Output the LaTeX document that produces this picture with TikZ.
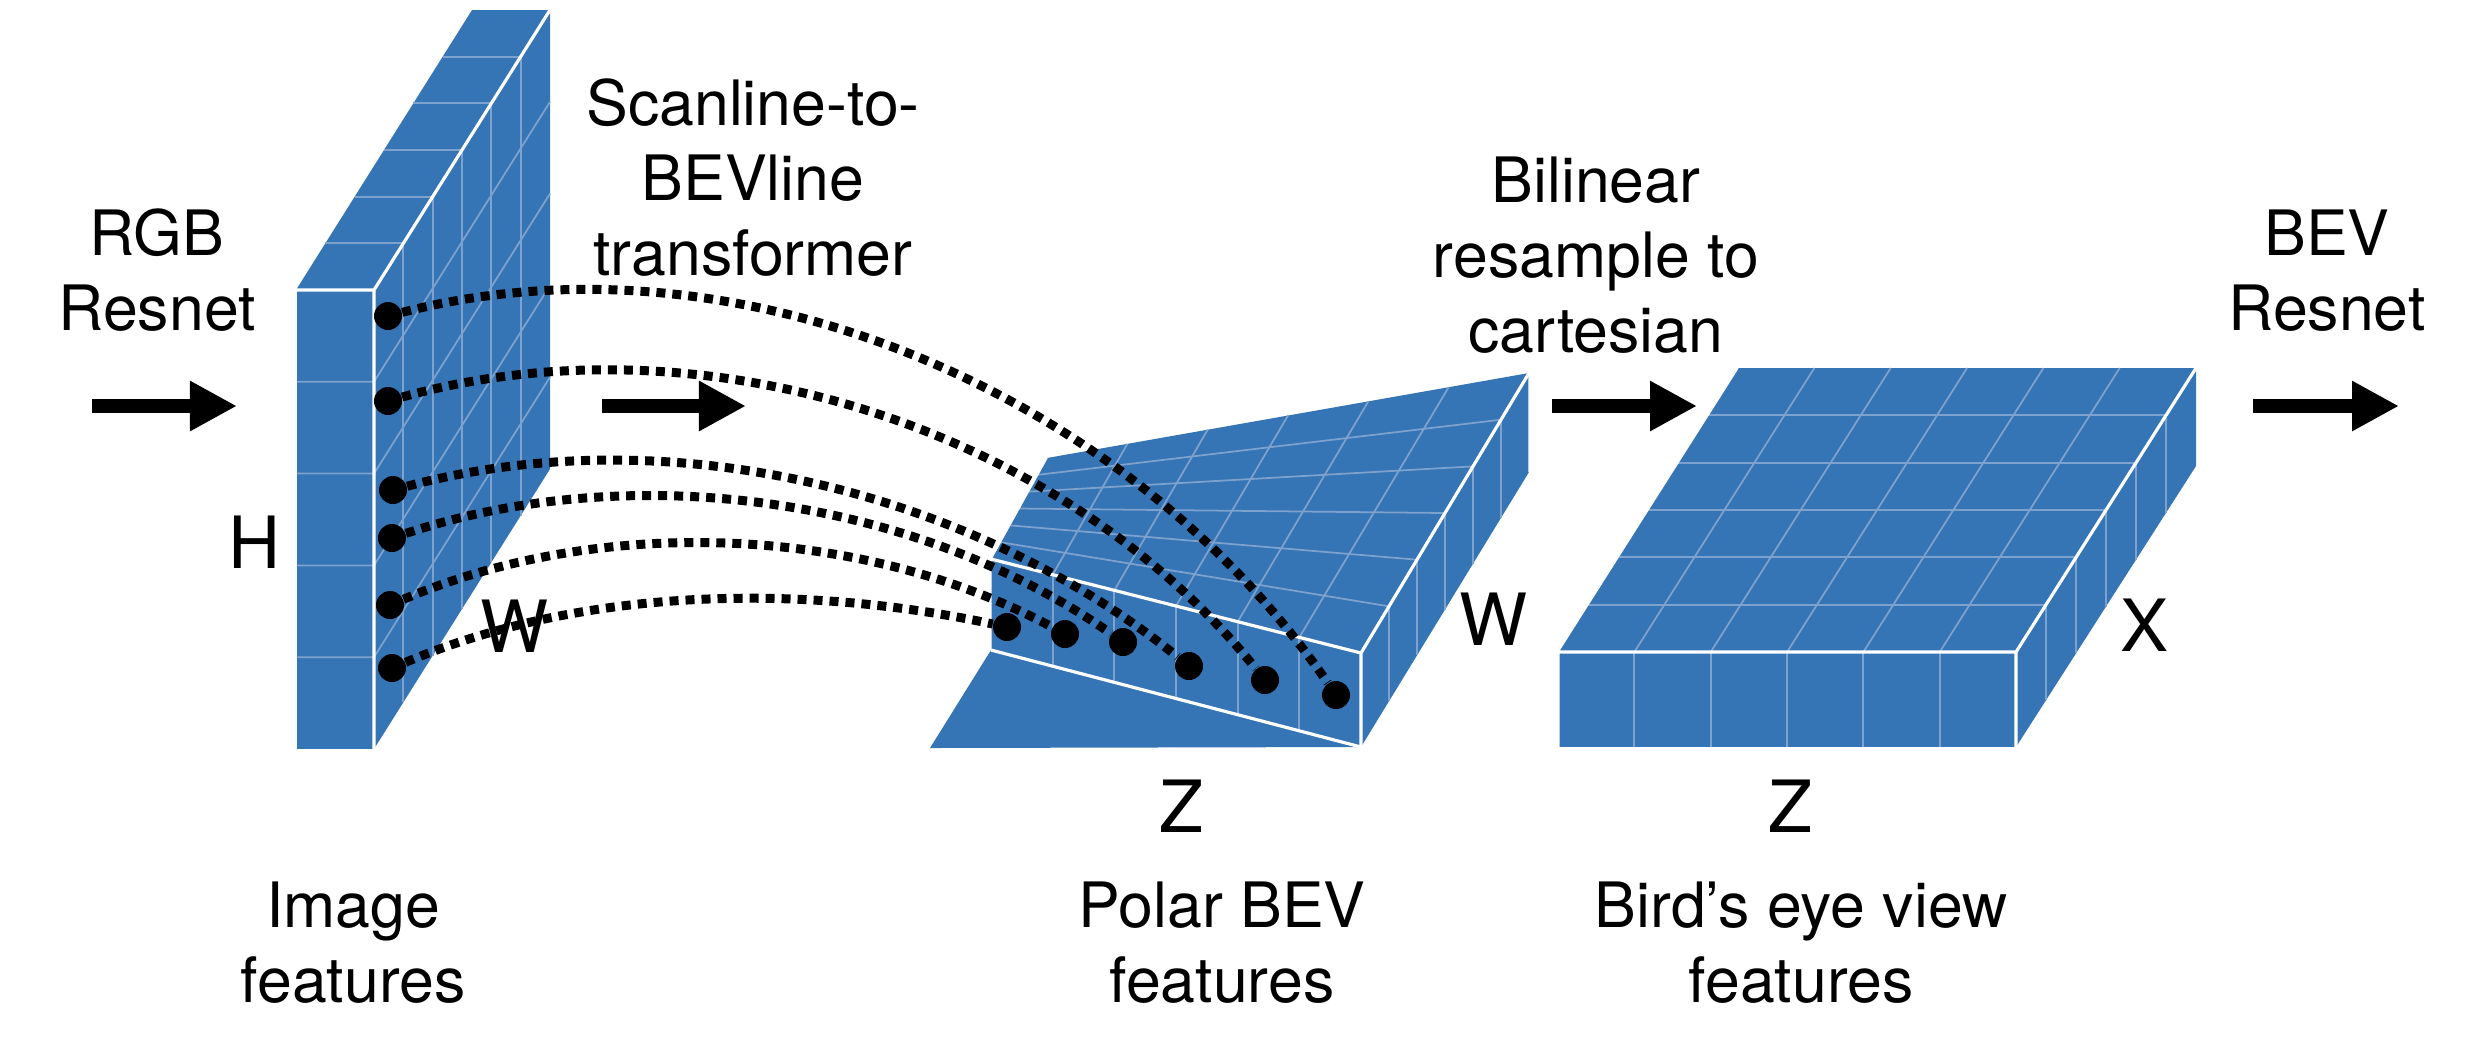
\documentclass[tikz,border=0pt]{standalone}
\usepackage{fontspec}
\setmainfont{TeX Gyre Heros}
\usetikzlibrary{arrows.meta,calc}
\definecolor{featblue}{RGB}{53,116,181}
\definecolor{gridblue}{RGB}{125,162,206}

\begin{document}
\begin{tikzpicture}[x=0.01cm, y=-0.01cm,
  face/.style={fill=featblue},
  gridline/.style={draw=gridblue, line width=0.5pt},
  rim/.style={draw=white, line width=0.9pt},
  thinrim/.style={draw=white, line width=0.4pt},
  feat/.style={circle, fill=black, inner sep=0pt, minimum size=0.28cm},
  scan/.style={line width=0.09cm, dash pattern=on 0.09cm off 0.07cm},
  flow/.style={line width=0.133cm, -{Triangle[length=0.47cm,width=0.47cm]}},
  txt/.style={align=center, anchor=base, font=\fontsize{17.8}{21.3}\selectfont},
  dimtext/.style={anchor=base, font=\fontsize{20.5}{24}\selectfont}]
\useasboundingbox (0,0) rectangle (2486,1044);

% image features
\coordinate (A1) at (296,290);
\coordinate (A2) at (374,290);
\coordinate (A3) at (374,749);
\coordinate (A4) at (296,749);
\coordinate (A5) at (550,10);
\coordinate (A6) at (472,10);
\coordinate (A7) at (550,469);
\fill[face] (A1) -- (A2) -- (A3) -- (A4) -- cycle;
\fill[face] (A1) -- (A2) -- (A5) -- (A6) -- cycle;
\fill[face] (A2) -- (A5) -- (A7) -- (A3) -- cycle;
\foreach \k in {1,...,4}
  \draw[gridline] ($(A1)!\k/5!(A4)$) -- ($(A2)!\k/5!(A3)$) -- ($(A5)!\k/5!(A7)$);
\foreach \k in {1,...,5} {
  \draw[gridline] ($(A2)!\k/6!(A5)$) -- ($(A3)!\k/6!(A7)$);
  \draw[gridline] ($(A1)!\k/6!(A6)$) -- ($(A2)!\k/6!(A5)$);
}
\draw[rim] (A1) -- (A2) -- (A3) (A2) -- (A5);
\draw[thinrim] (A1) -- (A4);

% polar BEV features
\coordinate (B1) at (991,559);
\coordinate (B2) at (1361,653);
\coordinate (B3) at (1361,747);
\coordinate (B4) at (991,650);
\coordinate (B5) at (1529,373);
\coordinate (B6) at (1047,458);
\coordinate (B7) at (1529,472);
\coordinate (B8) at (930,748);
\fill[face] (B4) -- (B8) -- (B3) -- cycle;
\fill[face] (B1) -- (B2) -- (B3) -- (B4) -- cycle;
\fill[face] (B1) -- (B2) -- (B5) -- (B6) -- cycle;
\fill[face] (B2) -- (B5) -- (B7) -- (B3) -- cycle;
\foreach \k in {1,...,5} {
  \draw[gridline] ($(B1)!\k/6!(B2)$) -- ($(B4)!\k/6!(B3)$);
  \draw[gridline] ($(B1)!\k/6!(B2)$) -- ($(B6)!\k/6!(B5)$);
  \draw[gridline] ($(B1)!\k/6!(B6)$) -- ($(B2)!\k/6!(B5)$);
  \draw[gridline] ($(B2)!\k/6!(B5)$) -- ($(B3)!\k/6!(B7)$);
}
\draw[rim] (B1) -- (B2) -- (B3) -- (B4) (B2) -- (B5);
\draw[thinrim] (B6) -- (B1) -- (B4) (B5) -- (B7);

% bird's eye view features
\coordinate (C1) at (1558,652);
\coordinate (C2) at (2016,652);
\coordinate (C3) at (2016,747);
\coordinate (C4) at (1558,747);
\coordinate (C5) at (2196,368);
\coordinate (C6) at (1738,368);
\coordinate (C7) at (2196,466);
\fill[face] (C1) -- (C2) -- (C3) -- (C4) -- cycle;
\fill[face] (C1) -- (C2) -- (C5) -- (C6) -- cycle;
\fill[face] (C2) -- (C5) -- (C7) -- (C3) -- cycle;
\foreach \k in {1,...,5} {
  \draw[gridline] ($(C1)!\k/6!(C2)$) -- ($(C4)!\k/6!(C3)$);
  \draw[gridline] ($(C1)!\k/6!(C2)$) -- ($(C6)!\k/6!(C5)$);
  \draw[gridline] ($(C1)!\k/6!(C6)$) -- ($(C2)!\k/6!(C5)$);
  \draw[gridline] ($(C2)!\k/6!(C5)$) -- ($(C3)!\k/6!(C7)$);
}
\draw[rim] (C4) -- (C1) -- (C2) -- (C3) (C2) -- (C5);
\draw[thinrim] (C1) -- (C6);

\node[feat] (a1) at (388,316) {};
\node[feat] (a2) at (388,401) {};
\node[feat] (a3) at (393,490) {};
\node[feat] (a4) at (392,538) {};
\node[feat] (a5) at (390,605) {};
\node[feat] (a6) at (392,668) {};
\node[feat] (b1) at (1007,627) {};
\node[feat] (b2) at (1065,634) {};
\node[feat] (b3) at (1123,642) {};
\node[feat] (b4) at (1189,666) {};
\node[feat] (b5) at (1265,680) {};
\node[feat] (b6) at (1336,695) {};

\draw[scan] (a1) .. controls (741,225) and (1130,395) .. (b6);
\draw[scan] (a2) .. controls (700,314) and (1059,425) .. (b5);
\draw[scan] (a3) .. controls (666,417) and (969,489) .. (b4);
\draw[scan] (a4) .. controls (633,458) and (916,497) .. (b3);
\draw[scan] (a5) .. controls (604,514) and (864,526) .. (b2);
\draw[scan] (a6) .. controls (586,586) and (804,584) .. (b1);

\coordinate (r1s) at (92,406);
\coordinate (r1e) at (237,406);
\coordinate (r2s) at (602,406);
\coordinate (r2e) at (746,406);
\coordinate (r3s) at (1552,406);
\coordinate (r3e) at (1697,406);
\coordinate (r4s) at (2253,406);
\coordinate (r4e) at (2399,406);
\draw[flow] (r1s) -- (r1e);
\draw[flow] (r2s) -- (r2e);
\draw[flow] (r3s) -- (r3e);
\draw[flow] (r4s) -- (r4e);

\node[txt] (rgbnet) at (157,330) {RGB\\Resnet};
\node[txt] (scanlbl) at (753,275) {Scanline-to-\\BEVline\\transformer};
\node[txt] (bilin) at (1596,352) {Bilinear\\resample to\\cartesian};
\node[txt] (bevnet) at (2327,330) {BEV\\Resnet};
\node[txt] (imgcap) at (353,1002) {Image\\features};
\node[txt] (polcap) at (1222,1002) {Polar BEV\\features};
\node[txt] (bevcap) at (1801,1002) {Bird’s eye view\\features};

\node[dimtext] (hdim) at (255,568) {H};
\node[dimtext] (wdima) at (515,652) {W};
\node[dimtext] (wdimb) at (1493,645) {W};
\node[dimtext] (xdim) at (2144,651) {X};
\node[dimtext] (zdima) at (1182,832) {Z};
\node[dimtext] (zdimb) at (1790,832) {Z};
\end{tikzpicture}
\end{document}
